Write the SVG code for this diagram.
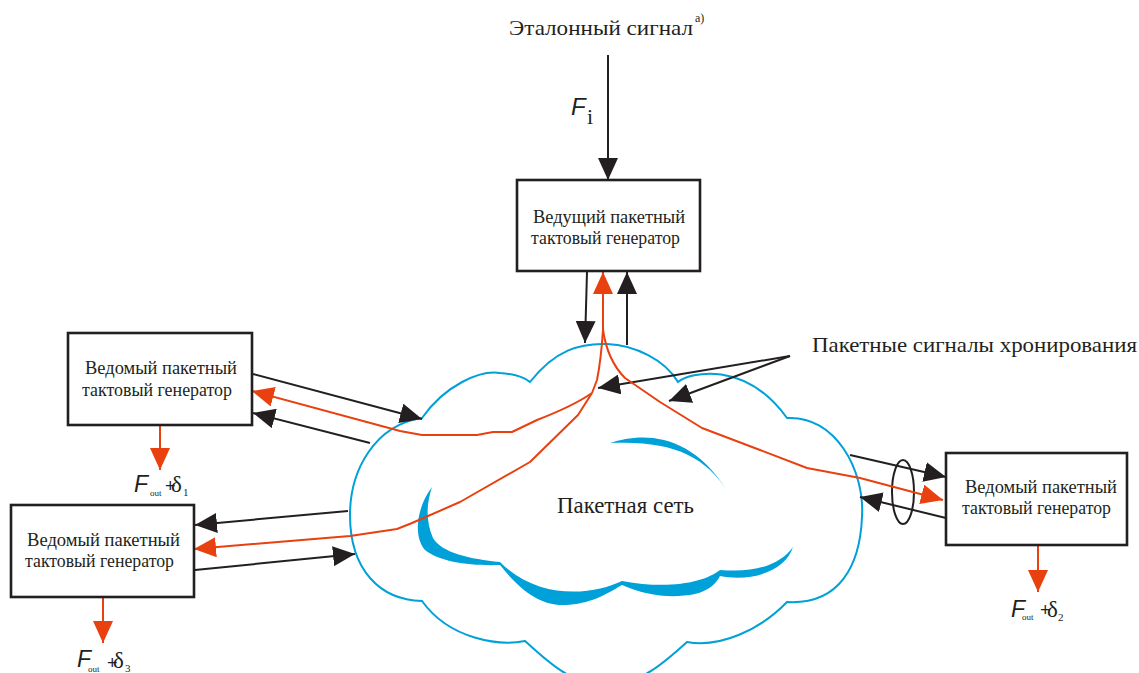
<svg xmlns="http://www.w3.org/2000/svg" width="1139" height="673" viewBox="0 0 1139 673">
<style>
.box{fill:#fff;stroke:#231f20;stroke-width:2.6}
.bt{font-family:"Liberation Serif","Times New Roman",serif;font-size:18px;fill:#231f20}
.lbl{font-family:"Liberation Serif","Times New Roman",serif;fill:#231f20}
.fi{font-family:"Liberation Sans",Arial,sans-serif;font-style:italic;fill:#231f20}
.pl{font-family:"Liberation Sans",Arial,sans-serif;fill:#231f20}
.blk{fill:none;stroke:#231f20;stroke-width:2}
.red{fill:none;stroke:#e9400f;stroke-width:2;stroke-linejoin:round}
.cl{fill:#fff;stroke:#00a0d8;stroke-width:2}
.cf{fill:#00a0d8;stroke:none}
</style>
<defs>
<marker id="ab" viewBox="0 0 22 20" refX="22" refY="10" markerWidth="22" markerHeight="20" markerUnits="userSpaceOnUse" orient="auto"><path d="M0,0 L22,10 L0,20 Z" fill="#231f20"/></marker>
<marker id="ar" viewBox="0 0 22 20" refX="22" refY="10" markerWidth="22" markerHeight="20" markerUnits="userSpaceOnUse" orient="auto"><path d="M0,0 L22,10 L0,20 Z" fill="#e9400f"/></marker>
</defs>

<g id="network">
<path class="cl" d="M530,382 C555,350 580,343 607,344 C635,345 665,360 678,382 C690,372 745,360 787,418 C835,415 865,470 862,517 C860,565 840,605 787,602 C760,630 720,648 687,642 C665,662 640,685 606,685 C572,685 548,662 525,641 C500,646 450,640 422,601 C380,600 350,570 350,515 C350,470 375,425 422,418 C445,385 480,370 500,373 C515,374 525,378 530,382 Z"/>
<path class="cf" d="M610,443 C640,433 690,430 728,492 C705,455 670,440 610,443 Z"/>
<path class="cf" d="M432,487 C418,505 412,535 425,550 C440,562 470,566 500,565 C520,590 540,606 565,605 C590,604 605,595 622,585 C645,595 670,599 695,594 C708,591 716,584 720,576 C750,582 785,572 793,547 C780,565 755,573 720,570 C705,582 670,590 622,581 C595,594 540,602 500,562 C470,559 442,553 433,538 C426,522 426,505 432,487 Z"/>
<text class="lbl" x="557" y="513" font-size="23" textLength="137" lengthAdjust="spacingAndGlyphs">Пакетная сеть</text>
</g>

<g id="connectors">
<line class="blk" x1="608" y1="55" x2="608" y2="180" marker-end="url(#ab)"/>
<line class="blk" x1="587" y1="272" x2="585" y2="343" marker-end="url(#ab)"/>
<line class="blk" x1="627" y1="345" x2="627" y2="272" marker-end="url(#ab)"/>
<line class="blk" x1="253" y1="374" x2="422" y2="419" marker-end="url(#ab)"/>
<line class="blk" x1="370" y1="443" x2="253" y2="413" marker-end="url(#ab)"/>
<line class="blk" x1="348" y1="511" x2="195" y2="525" marker-end="url(#ab)"/>
<line class="blk" x1="195" y1="570" x2="355" y2="554" marker-end="url(#ab)"/>
<line class="blk" x1="850" y1="455" x2="946" y2="477" marker-end="url(#ab)"/>
<line class="blk" x1="946" y1="518" x2="860" y2="497" marker-end="url(#ab)"/>
<line class="blk" x1="790" y1="356" x2="598" y2="388" marker-end="url(#ab)"/>
<line class="blk" x1="790" y1="356" x2="669" y2="401" marker-end="url(#ab)"/>
<ellipse cx="903" cy="492" rx="11" ry="32" fill="none" stroke="#231f20" stroke-width="2"/>
<path class="red" d="M592,393 L597,380 Q601,360 603,330 L603,272" marker-end="url(#ar)"/>
<path class="red" d="M592,393 C575,405 555,413 537,420 L512,432 L493,432 L477,435 L422,435 L400,431 L252,391" marker-end="url(#ar)"/>
<path class="red" d="M592,393 L578,415 L530,462 L460,502 L412,523 L397,529 L350,536 L194,549" marker-end="url(#ar)"/>
<path class="red" d="M603,330 C606,350 612,365 625,378 L660,402 L702,428 L760,450 L807,468 L860,478 L943,500" marker-end="url(#ar)"/>
<line class="red" x1="160" y1="426" x2="160" y2="470" marker-end="url(#ar)"/>
<line class="red" x1="103" y1="598" x2="103" y2="643" marker-end="url(#ar)"/>
<line class="red" x1="1038" y1="546" x2="1038" y2="592" marker-end="url(#ar)"/>
</g>

<g id="reference">
<text class="lbl" x="509" y="35" font-size="22" textLength="184" lengthAdjust="spacingAndGlyphs">Эталонный сигнал</text>
<text class="lbl" x="695" y="22" font-size="12">a)</text>
<text class="fi" x="571" y="115" font-size="24">F</text>
<text class="lbl" x="587" y="124" font-size="22">i</text>
</g>

<g id="master">
<rect class="box" x="517" y="180" width="183" height="91"/>
<text class="bt" x="533" y="223" textLength="152" lengthAdjust="spacingAndGlyphs">Ведущий пакетный</text>
<text class="bt" x="531" y="244" textLength="149" lengthAdjust="spacingAndGlyphs">тактовый генератор</text>
</g>

<g id="slave1">
<rect class="box" x="68" y="333" width="184" height="92"/>
<text class="bt" x="85" y="374" textLength="152" lengthAdjust="spacingAndGlyphs">Ведомый пакетный</text>
<text class="bt" x="82" y="396" textLength="150" lengthAdjust="spacingAndGlyphs">тактовый генератор</text>
<text class="fi" x="134" y="492" font-size="23">F</text>
<text class="lbl" x="150" y="496" font-size="9">out</text>
<text class="pl" x="165" y="492" font-size="18">+</text>
<text class="lbl" x="171" y="492" font-size="23">δ</text>
<text class="lbl" x="183" y="496" font-size="11">1</text>
</g>

<g id="slave2">
<rect class="box" x="11" y="505" width="183" height="92"/>
<text class="bt" x="27" y="546" textLength="153" lengthAdjust="spacingAndGlyphs">Ведомый пакетный</text>
<text class="bt" x="25" y="567" textLength="149" lengthAdjust="spacingAndGlyphs">тактовый генератор</text>
<text class="fi" x="77" y="667" font-size="23">F</text>
<text class="lbl" x="88" y="672" font-size="9">out</text>
<text class="pl" x="107" y="669" font-size="18">+</text>
<text class="lbl" x="113" y="668" font-size="23">δ</text>
<text class="lbl" x="125" y="672" font-size="11">3</text>
</g>

<g id="slave3">
<rect class="box" x="946" y="453" width="181" height="92"/>
<text class="bt" x="965" y="493" textLength="152" lengthAdjust="spacingAndGlyphs">Ведомый пакетный</text>
<text class="bt" x="962" y="514" textLength="149" lengthAdjust="spacingAndGlyphs">тактовый генератор</text>
<text class="fi" x="1011" y="617" font-size="23">F</text>
<text class="lbl" x="1022" y="620" font-size="9">out</text>
<text class="pl" x="1040" y="616" font-size="18">+</text>
<text class="lbl" x="1047" y="617" font-size="23">δ</text>
<text class="lbl" x="1058" y="621" font-size="11">2</text>
</g>

<g id="annotation">
<text class="lbl" x="812" y="352" font-size="22" textLength="325" lengthAdjust="spacingAndGlyphs">Пакетные сигналы хронирования</text>
</g>
</svg>
